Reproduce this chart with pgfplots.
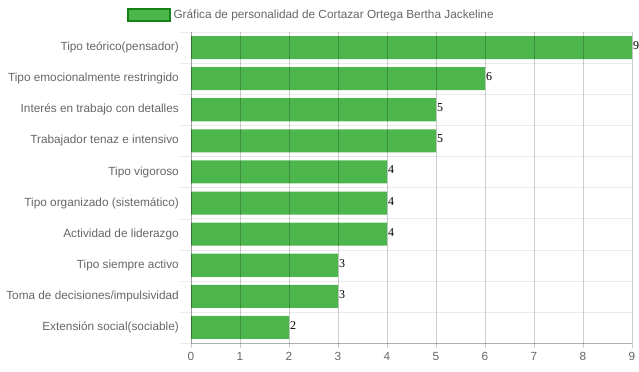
\documentclass[border=0pt]{standalone}
\usepackage{pgfplots}
\pgfplotsset{compat=1.18}
\usepackage{fontspec}
\setmainfont{Liberation Sans}
\newfontfamily\serifnum{Liberation Serif}
\definecolor{barfill}{RGB}{76,181,76}
\definecolor{legline}{RGB}{20,130,20}
\definecolor{txt}{RGB}{102,102,102}
\begin{document}
\fontsize{11.8bp}{14bp}\selectfont
\begin{tikzpicture}
\useasboundingbox (0,0) rectangle (639bp,372bp);
\begin{axis}[
  at={(191bp,29bp)}, anchor=south west,
  width=441bp, height=311bp, scale only axis,
  xbar, bar width=0.74,
  xmin=0, xmax=9, ymin=-0.5, ymax=9.5, y dir=reverse,
  ytick={0,...,9},
  yticklabels={Tipo teórico(pensador),Tipo emocionalmente restringido,Interés en trabajo con detalles,Trabajador tenaz e intensivo,Tipo vigoroso,Tipo organizado (sistemático),Actividad de liderazgo,Tipo siempre activo,Toma de decisiones/impulsividad,Extensión social(sociable)},
  minor ytick={-0.5,0.5,...,9.5},
  xtick={0,...,9},
  xmajorgrids, yminorgrids,
  axis x line*=bottom, axis y line*=left,
  x axis line style={draw=black, draw opacity=0.25},
  y axis line style={draw=black, draw opacity=0.2},
  tick align=outside,
  major x tick style={draw=black, draw opacity=0.2},
  major tick length=5bp,
  minor tick length=11bp,
  major y tick style={draw=none},
  minor y tick style={draw=black, draw opacity=0.08},
  x grid style={draw=black, draw opacity=0.2},
  minor y grid style={draw=black, draw opacity=0.08},
  axis on top,
  clip=false,
  tick label style={font=\fontsize{11.8bp}{14bp}\selectfont, text=txt},
  yticklabel style={inner sep=0pt, xshift=-7bp, anchor=east},
  xticklabel style={inner sep=0pt, yshift=-4bp},
  /pgf/number format/assume math mode=true,
  legend image code/.code={\draw[fill=barfill, draw=legline, line width=1.8bp] (0bp,-6bp) rectangle (42bp,6bp);},
  legend style={draw=none, fill=none, at={(axis description cs:-0.145,1.0547)}, anchor=west, inner sep=0pt, font=\fontsize{11.8bp}{14bp}\selectfont, text=txt, nodes={inner xsep=2.5bp}},
  legend cell align=left,
]
\addplot[fill=barfill, draw=none,
  nodes near coords,
  every node near coord/.append style={font=\serifnum\fontsize{12bp}{14bp}\selectfont, text=black, anchor=west, inner sep=1bp, yshift=2bp}]
  coordinates {(9,0) (6,1) (5,2) (5,3) (4,4) (4,5) (4,6) (3,7) (3,8) (2,9)};
\addlegendentry{Gráfica de personalidad de Cortazar Ortega Bertha Jackeline}
\end{axis}
\end{tikzpicture}
\end{document}
